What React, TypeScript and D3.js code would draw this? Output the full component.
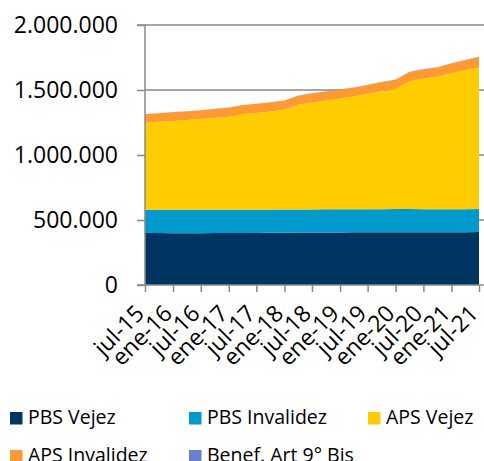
import * as d3 from 'd3';
import React, { useEffect, useRef } from 'react';

// quarterly readings, jul-15 .. jul-21
const periods = [
  '2015-07', '2015-10', '2016-01', '2016-04', '2016-07', '2016-10',
  '2017-01', '2017-04', '2017-07', '2017-10', '2018-01', '2018-04',
  '2018-07', '2018-10', '2019-01', '2019-04', '2019-07', '2019-10',
  '2020-01', '2020-04', '2020-07', '2020-10', '2021-01', '2021-04', '2021-07',
];

const pbsVejez = [
  400000, 400000, 399000, 399000, 399000, 400000, 400000, 400000, 400000,
  401000, 402000, 403000, 403000, 404000, 404000, 405000, 405000, 405000,
  406000, 406000, 405000, 405000, 406000, 406000, 407000,
];
const pbsInvalidez = [
  178000, 178000, 179000, 179000, 179000, 179000, 179000, 179000, 178000,
  178000, 178000, 178000, 178000, 178000, 178000, 178000, 178000, 178000,
  178000, 178000, 177000, 177000, 177000, 177000, 177000,
];
const apsVejez = [
  670000, 677000, 684000, 691000, 698000, 707000, 716000, 736000, 746000,
  755000, 768000, 805000, 822000, 837000, 853000, 867000, 887000, 908000,
  924000, 984000, 1007000, 1019000, 1046000, 1068000, 1090000,
];
const apsInvalidez = [
  66000, 66000, 67000, 67000, 68000, 68000, 69000, 69000, 70000,
  70000, 70000, 70000, 70000, 69000, 68000, 68000, 68000, 69000,
  70000, 70000, 71000, 72000, 74000, 77000, 80000,
];
const benefArt9Bis = [
  1000, 1000, 1000, 1000, 1000, 1000, 1000, 1000, 1000,
  1000, 2000, 2000, 2000, 2000, 2000, 2000, 2000, 2000,
  2000, 2000, 2000, 2000, 2000, 2000, 2000,
];

const tickPeriods = [
  '2015-07', '2016-01', '2016-07', '2017-01', '2017-07', '2018-01', '2018-07',
  '2019-01', '2019-07', '2020-01', '2020-07', '2021-01', '2021-07',
];
const tickLabels = [
  'jul-15', 'ene-16', 'jul-16', 'ene-17', 'jul-17', 'ene-18', 'jul-18',
  'ene-19', 'jul-19', 'ene-20', 'jul-20', 'ene-21', 'jul-21',
];
const yTicks = [0, 500000, 1000000, 1500000, 2000000];

const seriesNames = ['PBS Vejez', 'PBS Invalidez', 'APS Vejez', 'APS Invalidez', 'Benef. Art 9° Bis'];
const seriesColors = ['#003462', '#009ACD', '#FFCC00', '#FF9933', '#6B7FCC'];

const parseMonth = d3.timeParse('%Y-%m');
const fmt = d3.formatLocale({ decimal: ',', thousands: '.', grouping: [3], currency: ['', ''] }).format(',d');

const width = 484;
const height = 461;
const left = 145;
const right = 479;
const top = 25;
const bottom = 285;
const font = "'Open Sans', sans-serif";

const App = () => {
  const svgRef = useRef(null);

  useEffect(() => {
    const svg = d3.select(svgRef.current);
    svg.selectAll('*').remove();

    const rows = periods.map((p, i) => ({
      date: parseMonth(p),
      s0: pbsVejez[i],
      s1: pbsInvalidez[i],
      s2: apsVejez[i],
      s3: apsInvalidez[i],
      s4: benefArt9Bis[i],
    }));
    const keys = ['s0', 's1', 's2', 's3', 's4'];
    const stacked = d3.stack().keys(keys)(rows);

    const x = d3
      .scaleTime()
      .domain([parseMonth(periods[0]), parseMonth(periods[periods.length - 1])])
      .range([left, right]);
    const y = d3.scaleLinear().domain([0, 2000000]).range([bottom, top]);

    // gridlines
    svg
      .append('g')
      .selectAll('line')
      .data(yTicks.slice(1))
      .enter()
      .append('line')
      .attr('x1', left)
      .attr('x2', width)
      .attr('y1', (d) => y(d))
      .attr('y2', (d) => y(d))
      .attr('stroke', '#898989')
      .attr('stroke-width', 1.5);

    const area = d3
      .area()
      .x((d) => x(d.data.date))
      .y0((d) => y(d[0]))
      .y1((d) => y(d[1]));

    svg
      .append('g')
      .selectAll('path')
      .data(stacked)
      .enter()
      .append('path')
      .attr('d', area)
      .attr('fill', (d, i) => seriesColors[i]);

    // y axis
    const yAxis = d3.axisLeft(y).tickValues(yTicks).tickFormat(fmt).tickSize(8).tickPadding(19);
    const gy = svg.append('g').attr('transform', `translate(${left},0)`).call(yAxis);
    gy.select('.domain').attr('stroke', '#898989').attr('stroke-width', 1.5).attr('d', `M-8,${top}H0V${bottom}H-8`);
    gy.selectAll('.tick line').attr('stroke', '#898989').attr('stroke-width', 1.5);
    gy.selectAll('.tick text')
      .attr('fill', '#000')
      .style('font-family', font)
      .style('font-size', '23px');

    // x axis
    const xAxis = d3
      .axisBottom(x)
      .tickValues(tickPeriods.map(parseMonth))
      .tickFormat((d, i) => tickLabels[i])
      .tickSize(7)
      .tickSizeOuter(0);
    const gx = svg.append('g').attr('transform', `translate(0,${bottom})`).call(xAxis);
    gx.select('.domain').attr('stroke', '#898989').attr('stroke-width', 1.5).attr('d', `M${left},0H${width}`);
    gx.selectAll('.tick line').attr('stroke', '#898989').attr('stroke-width', 1.5);
    gx.selectAll('.tick text')
      .attr('fill', '#000')
      .attr('text-anchor', 'end')
      .attr('x', 0)
      .attr('y', 0)
      .attr('dy', 0)
      .attr('transform', 'translate(0,30) rotate(-45)')
      .style('font-family', font)
      .style('font-size', '23px');

    // legend
    const legendPos = [
      [10, 412], [189, 412], [368, 412],
      [10, 450], [189, 450],
    ];
    const lg = svg
      .append('g')
      .selectAll('g')
      .data(seriesNames)
      .enter()
      .append('g')
      .attr('transform', (d, i) => `translate(${legendPos[i][0]},${legendPos[i][1]})`);
    lg.append('rect')
      .attr('width', 12.5)
      .attr('height', 12.5)
      .attr('fill', (d, i) => seriesColors[i]);
    lg.append('text')
      .attr('x', 18)
      .attr('y', 11.5)
      .attr('fill', '#000')
      .style('font-family', font)
      .style('font-size', '19.5px')
      .text((d) => d);
  }, []);

  return (
    <svg
      ref={svgRef}
      width={width}
      height={height}
      style={{ position: 'absolute', left: 0, top: 0, background: 'white' }}
    ></svg>
  );
};

export default App;
